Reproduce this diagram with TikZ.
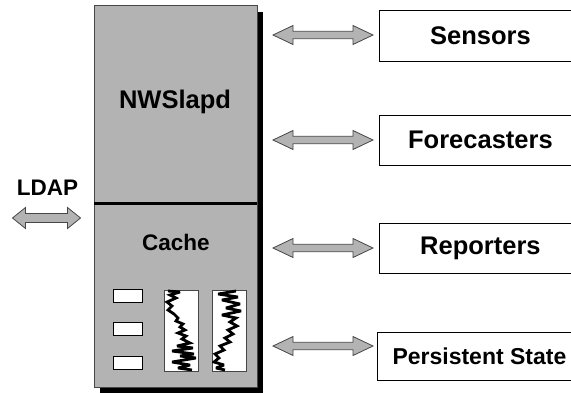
\documentclass[tikz,border=0pt]{standalone}
\usepackage{fontspec}
\setmainfont{Liberation Sans}
\usetikzlibrary{shadows}
\definecolor{boxgray}{RGB}{179,179,179}
\definecolor{edgegray}{RGB}{70,70,70}
\newcommand\blockarrow[6]{% start coord, head len, shaft len, head half, shaft half, name
  \filldraw[arrowbody] (#1) -- ++(#2,-#4) -- ++(0,#4-#5) -- ++(#3,0) -- ++(0,#5-#4)
    -- ++(#2,#4) -- ++(-#2,#4) -- ++(0,#5-#4) -- ++(-#3,0) -- ++(0,#4-#5) -- cycle;
}
\begin{document}
\begin{tikzpicture}[x=1pt,y=-1pt,
  mainbox/.style={draw=edgegray, line width=0.8pt, fill=boxgray, minimum width=163pt, minimum height=381.5pt, inner sep=0pt,
     drop shadow={shadow xshift=6pt, shadow yshift=-6pt, fill=black, opacity=1}},
  sidebox/.style={draw=black, line width=0.9pt, fill=white, minimum width=202pt, inner sep=0pt, font=\bfseries\fontsize{25.5}{30}\selectfont},
  label/.style={font=\bfseries\fontsize{22.5}{26}\selectfont, inner sep=0pt},
  slot/.style={draw=black, line width=0.8pt, fill=white, minimum width=29pt, minimum height=13pt, inner sep=0pt},
  plotbox/.style={draw=edgegray, line width=0.8pt, fill=white, minimum width=34pt, minimum height=81pt, inner sep=0pt},
  trace/.style={line width=2.8pt, black, line join=miter, miter limit=3},
  arrowbody/.style={fill=boxgray, draw=edgegray, line width=0.8pt, line join=miter},
  divider/.style={line width=3.5pt, black}]
\clip (0,0) rectangle (571,394);
\fill[white] (0,0) rectangle (571,394);
% main box
\node[mainbox] (main) at (175.5,196.25) {};
\coordinate (divl) at (94,203.5);
\coordinate (divr) at (257,203.5);
\draw[divider] (divl) -- (divr);
\node[font=\bfseries\fontsize{25.5}{30}\selectfont, inner sep=0pt] (nws) at (175,102) {NWSlapd};
\node[label] (cache) at (176,242) {Cache};
\node[label] (ldap) at (47.5,188) {LDAP};
% slots
\node[slot] (s1) at (127.5,295.5) {};
\node[slot] (s2) at (127.5,328.5) {};
\node[slot] (s3) at (127.5,362.5) {};
% plots
\node[plotbox] (p1) at (181.5,330.5) {};
\node[plotbox] (p2) at (229.5,330.5) {};
\begin{scope}
\clip (p1.south west) rectangle (p1.north east);
\draw[trace] (168,291) -- (180,292) -- (170,295) -- (176,298) -- (167,302) -- (172,306) -- (168,310) -- (174,314) -- (178,318) -- (176,321) -- (183,324) -- (180,327) -- (185,330) -- (178,333) -- (186,336) -- (182,339) -- (190,343) -- (177,346) -- (193,348) -- (172,351) -- (194,354) -- (180,356) -- (196,358) -- (172,362) -- (190,365) -- (178,368) -- (192,370);
\end{scope}
\begin{scope}
\clip (p2.south west) rectangle (p2.north east);
\draw[trace] (236,291) -- (218,294) -- (238,297) -- (222,300) -- (240,304) -- (226,308) -- (241,311) -- (222,315) -- (236,318) -- (230,322) -- (237,326) -- (228,330) -- (233,334) -- (225,338) -- (230,342) -- (220,346) -- (224,350) -- (215,354) -- (219,358) -- (214,362) -- (224,365) -- (216,368) -- (225,370);
\end{scope}
% side boxes
\node[sidebox, minimum height=51pt, anchor=west] (sensors) at (379,35.5) {Sensors};
\node[sidebox, minimum height=50pt, anchor=west] (fore) at (379,140) {Forecasters};
\node[sidebox, minimum height=50pt, anchor=west] (rep) at (379,248) {Reporters};
\node[sidebox, minimum height=48pt, minimum width=204pt, anchor=west, font=\bfseries\fontsize{23}{28}\selectfont] (pers) at (377,356) {Persistent State};
% arrows
\coordinate (a0) at (12.5,218);
\coordinate (a1) at (273,35);
\coordinate (a2) at (273,140);
\coordinate (a3) at (273,248);
\coordinate (a4) at (273,346);
\blockarrow{a0}{13}{42}{10.5}{4.5}{}
\blockarrow{a1}{20}{60}{9.5}{3.7}{}
\blockarrow{a2}{20}{60}{9.5}{3.7}{}
\blockarrow{a3}{20}{60}{9.5}{3.7}{}
\blockarrow{a4}{20}{60}{9.5}{3.7}{}
\end{tikzpicture}
\end{document}
